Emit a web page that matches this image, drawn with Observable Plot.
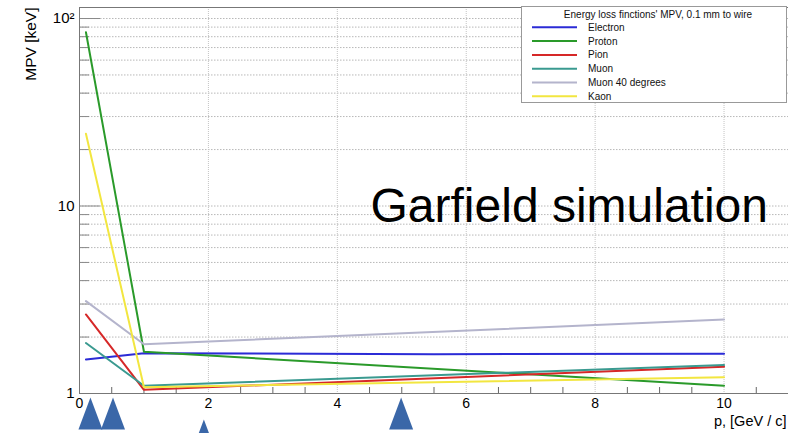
<!DOCTYPE html>
<html>
<head>
<meta charset="utf-8">
<script src="https://cdn.jsdelivr.net/npm/d3@7"></script>
<script src="https://cdn.jsdelivr.net/npm/@observablehq/plot@0.6"></script>
<style>
  html, body { margin: 0; padding: 0; background: #fff; }
  #chart { width: 788px; height: 433px; overflow: hidden; }
</style>
</head>
<body>
<div id="chart"></div>
<script>
// ---- data ----
const seriesNames = ["Electron", "Proton", "Pion", "Muon", "Muon 40 degrees", "Kaon"];
const seriesColors = ["#2b2bd6", "#2a9a2a", "#d62828", "#3a9a90", "#b4b4cc", "#f2e640"];
const p = [0.1, 1, 10];
const electronP = [0.1, 1, 5.5, 10];
const electron = [1.52, 1.64, 1.62, 1.63];
const proton = [84.5, 1.67, 1.10];
const pion = [2.64, 1.046, 1.39];
const muon = [1.86, 1.10, 1.42];
const muon40 = [3.11, 1.83, 2.48];
const kaon = [24.3, 1.08, 1.22];
const yMajorTicks = [10, 100];
const yLabelTicks = [1, 10, 100];
const yMinorTicks = [2, 3, 4, 5, 6, 7, 8, 9, 20, 30, 40, 50, 60, 70, 80, 90];
const yGridTicks = [2, 3, 4, 5, 6, 7, 8, 9, 10, 20, 30, 40, 50, 60, 70, 80, 90, 100];
const xLabelTicks = [0, 2, 4, 6, 8, 10];
const xGridTicks = [2, 4, 6, 8, 10];
const xMinorTicks = [0.5, 1, 1.5, 2.5, 3, 3.5, 4.5, 5, 5.5, 6.5, 7, 7.5, 8.5, 9, 9.5, 10.5];
const arrowsHigh = [0.17, 0.52, 4.99];
const arrowsLow = [1.93];
const legendTitle = "Energy loss finctions' MPV, 0.1 mm to wire";
const xTitle = "p, [GeV / c]";
const yTitle = "MPV [keV]";
const annotation = "Garfield simulation";

// ---- table ----
const seriesValues = [electron, proton, pion, muon, muon40, kaon];
const rows = [];
seriesNames.forEach((name, i) => {
  const xs = i === 0 ? electronP : p;
  seriesValues[i].forEach((v, j) => rows.push({ series: name, p: xs[j], mpv: v }));
});

const font = "'Liberation Sans', Arial, Helvetica, sans-serif";
const W = 788, H = 433, ML = 79, MR = 0, MT = 7, MB = 40;
const frameW = W - ML - MR, frameH = H - MT - MB;

const arrowHead = {
  draw(ctx) {
    ctx.moveTo(0, -16);
    ctx.lineTo(12, 16);
    ctx.lineTo(-12, 16);
    ctx.closePath();
  }
};

const svg = Plot.plot({
  width: W, height: H,
  marginLeft: ML, marginRight: MR, marginTop: MT, marginBottom: MB,
  style: { fontFamily: font, fontSize: "15px", background: "white", color: "black", overflow: "visible" },
  x: { domain: [0, 11] },
  y: { type: "log", domain: [1, 114.5] },
  color: { domain: seriesNames, range: seriesColors },
  marks: [
    Plot.gridY(yGridTicks, { stroke: "#b8b8b8", strokeOpacity: 1, strokeDasharray: "1.5,1.5" }),
    Plot.gridX(xGridTicks, { stroke: "#c4c4c4", strokeOpacity: 1, strokeDasharray: "1,1" }),
    Plot.ruleY(yMinorTicks, { stroke: "#8a8a8a", insetRight: frameW - 10 }),
    Plot.ruleY(yMajorTicks, { stroke: "#8a8a8a", insetRight: frameW - 21 }),
    Plot.ruleX(xMinorTicks, { stroke: "#666", insetTop: frameH - 6 }),
    Plot.frame({ stroke: "#777" }),
    Plot.line(rows, { x: "p", y: "mpv", z: "series", stroke: "series", strokeWidth: 2 }),
    Plot.axisY(yLabelTicks, {
      tickSize: 0, tickPadding: 5, label: null, fontSize: 15,
      tickFormat: d => d === 100 ? "10\u00B2" : String(d)
    }),
    Plot.axisX(xLabelTicks, { tickSize: 0, tickPadding: 5, label: null, fontSize: 14, tickFormat: d => String(d) }),
    Plot.text([yTitle], { text: d => d, frameAnchor: "top-left", dx: 24 - ML, dy: 0, rotate: -90, textAnchor: "end", fontSize: 15.5 }),
    Plot.text([xTitle], { text: d => d, frameAnchor: "bottom-right", dx: -2, dy: 32, textAnchor: "end", fontSize: 14.5 }),
    Plot.text([annotation], { text: d => d, frameAnchor: "top-left", dx: 370 - ML, dy: 187 - MT, textAnchor: "start", fontSize: 48 }),
    Plot.dot(arrowsHigh, { x: d => d, frameAnchor: "bottom", dy: 20, symbol: arrowHead, r: 5, fill: "#3a67a8", stroke: "none" }),
    Plot.dot(arrowsLow, { x: d => d, frameAnchor: "bottom", dy: 42, symbol: arrowHead, r: 5, fill: "#3a67a8", stroke: "none" })
  ]
});

// ---- legend box drawn inside the frame ----
const lg = d3.select(svg).append("g").attr("font-family", font).attr("font-size", 10).attr("text-anchor", "start");
lg.append("rect").attr("x", 521.5).attr("y", 6.5).attr("width", 265).attr("height", 96)
  .attr("fill", "white").attr("stroke", "#999");
lg.append("text").attr("x", 658).attr("y", 14).attr("dy", "0.35em").attr("text-anchor", "middle")
  .attr("fill", "#111").text(legendTitle);
seriesNames.forEach((name, i) => {
  const y = 27.3 + i * 13.8;
  lg.append("line").attr("x1", 532).attr("x2", 577).attr("y1", y).attr("y2", y)
    .attr("stroke", seriesColors[i]).attr("stroke-width", 2);
  lg.append("text").attr("x", 588).attr("y", y).attr("dy", "0.35em").attr("text-anchor", "start")
    .attr("fill", "#111").text(name);
});

document.getElementById("chart").appendChild(svg);
</script>
</body>
</html>
